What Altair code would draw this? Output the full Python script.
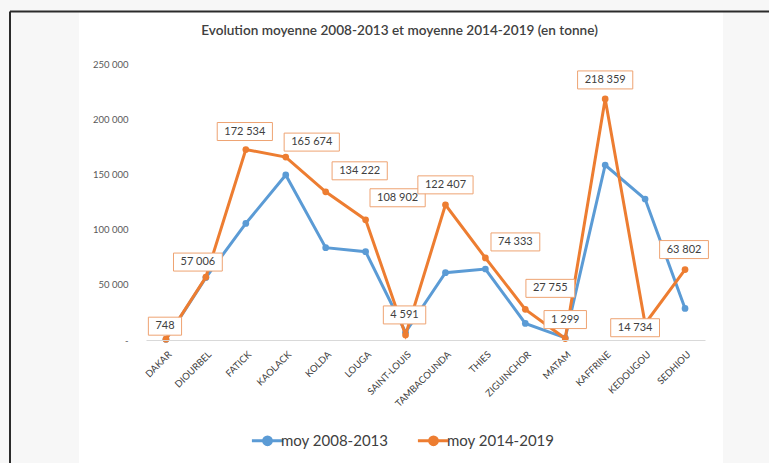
import altair as alt
import pandas as pd

categories = ["DAKAR", "DIOURBEL", "FATICK", "KAOLACK", "KOLDA", "LOUGA", "SAINT-LOUIS",
              "TAMBACOUNDA", "THIES", "ZIGUINCHOR", "MATAM", "KAFFRINE", "KEDOUGOU", "SEDHIOU"]
moy_2008_2013 = [600, 56500, 105600, 149500, 83600, 80000, 7000,
                 61000, 64300, 15000, 2000, 158500, 127700, 28600]
moy_2014_2019 = [748, 57006, 172534, 165674, 134222, 108902, 4591,
                 122407, 74333, 27755, 1299, 218359, 14734, 63802]
series_names = ["moy 2008-2013", "moy 2014-2019"]
y_ticks = [0, 50000, 100000, 150000, 200000, 250000]

# label placement: pixel offsets of each data label relative to its orange point
label_dx = [-1, -8, -1, 26, 34, 32, -1, 0, 30, 25, 0, 0, -10, -1]
label_dy = [-13, -15, -18, -15, -21, -22, -20, -20, -16, -21, -19, -19, 4, -20]

BLUE = "#5b9bd5"
ORANGE = "#ed7d31"
FONT = "Lato"

W, H = 559, 276
YMAX = 250000
PL, PT = 146, 64
PR, PB = 769 - PL - W, 463 - PT - H


def fmt(v):
    return f"{v:,}".replace(",", " ")


def box_path(txt):
    w = sum(6.4 if c.isdigit() else 2.8 for c in txt) + 14
    h = 18
    return f"M{-w/2:.1f},{-h/2}H{w/2:.1f}V{h/2}H{-w/2:.1f}Z"


rows = []
for s, vals in zip(series_names, [moy_2008_2013, moy_2014_2019]):
    for c, v in zip(categories, vals):
        rows.append({"cat": c, "series": s, "value": v})
df = pd.DataFrame(rows)

lab = pd.DataFrame({
    "cat": categories,
    "value": moy_2014_2019,
    "txt": [fmt(v) for v in moy_2014_2019],
    "dx": label_dx,
    "dy": label_dy,
})
lab["shape"] = [box_path(t) for t in lab["txt"]]

x_enc = alt.X("cat:N", sort=categories, title=None,
              scale=alt.Scale(type="point", padding=0.5),
              axis=alt.Axis(labelAngle=-45, labelFontSize=9.5, labelColor="#404040",
                            labelFont=FONT, ticks=False, domainColor="#d9d9d9",
                            domainWidth=1, labelPadding=9, zindex=1))
y_scale = alt.Scale(domain=[0, YMAX], nice=False)
y_enc = alt.Y("value:Q", title=None, scale=y_scale,
              axis=alt.Axis(values=y_ticks, grid=False, domain=False, ticks=False,
                            labelFontSize=9.5, labelColor="#595959", labelFont=FONT,
                            labelPadding=18, zindex=1,
                            labelExpr="datum.value == 0 ? '-' : (floor(datum.value/1000) + ' ' + format(datum.value % 1000, '03d'))"))

legend_path = "M-1.6,0H1.6M0.4,0A0.4,0.4,0,1,1,-0.4,0A0.4,0.4,0,1,1,0.4,0"
color_enc = alt.Color("series:N", title=None,
                      scale=alt.Scale(domain=series_names, range=[BLUE, ORANGE]),
                      legend=alt.Legend(orient="none", direction="horizontal",
                                        legendX=110, legendY=365,
                                        symbolType=legend_path, symbolSize=380,
                                        symbolStrokeWidth=3, labelFontSize=15,
                                        labelFont=FONT, labelColor="#404040",
                                        columnPadding=22, labelOffset=2,
                                        padding=0, zindex=1))

base = alt.Chart(df)

deco = pd.DataFrame({"k": [0]})
panel = alt.Chart(deco).mark_rect(color="white").encode(
    x=alt.value(79 - PL), x2=alt.value(723 - PL),
    y=alt.value(12 - PT), y2=alt.value(463 - PT + 5))
border_top = alt.Chart(deco).mark_rule(color="#2b2b2b", strokeWidth=2).encode(
    x=alt.value(10 - PL), x2=alt.value(769 - PL + 5), y=alt.value(11.5 - PT))
border_left = alt.Chart(deco).mark_rule(color="#2b2b2b", strokeWidth=2).encode(
    x=alt.value(10 - PL), y=alt.value(11.5 - PT), y2=alt.value(463 - PT + 5))

layers = [panel, border_top, border_left]
for s in series_names:
    sub = base.transform_filter(alt.datum.series == s)
    layers.append(sub.mark_line(strokeWidth=3).encode(x=x_enc, y=y_enc, color=color_enc))
    layers.append(sub.mark_circle(size=45, opacity=1).encode(x=x_enc, y=y_enc, color=color_enc))

lab_base = alt.Chart(lab).transform_calculate(
    ly=f"datum.value - datum.dy * {YMAX} / {H}")
boxes = lab_base.mark_point(filled=True, fill="white", stroke="#eea372", strokeWidth=1,
                            size=4, opacity=1).encode(
    x=alt.X("cat:N", sort=categories), y=alt.Y("ly:Q"),
    xOffset=alt.XOffset("dx:Q", scale=None),
    shape=alt.Shape("shape:N", scale=None))
texts = lab_base.mark_text(font=FONT, fontSize=11, color="#404040",
                           baseline="middle", align="center").encode(
    x=alt.X("cat:N", sort=categories), y=alt.Y("ly:Q"),
    xOffset=alt.XOffset("dx:Q", scale=None),
    text="txt:N")
layers += [boxes, texts]

chart = alt.layer(*layers).properties(
    width=W, height=H,
    title=alt.TitleParams("Evolution moyenne 2008-2013 et moyenne 2014-2019 (en tonne)",
                          font=FONT, fontSize=13.6, fontWeight=600, color="#404040",
                          dx=-26, offset=-27, frame="group", zindex=1),
    autosize=alt.AutoSizeParams(type="none"),
    padding={"left": PL, "top": PT, "right": PR, "bottom": PB},
    background="#f7f7f7",
).configure_view(stroke=None)

chart.save("out.html", embed_options={"renderer": "svg", "actions": False})
